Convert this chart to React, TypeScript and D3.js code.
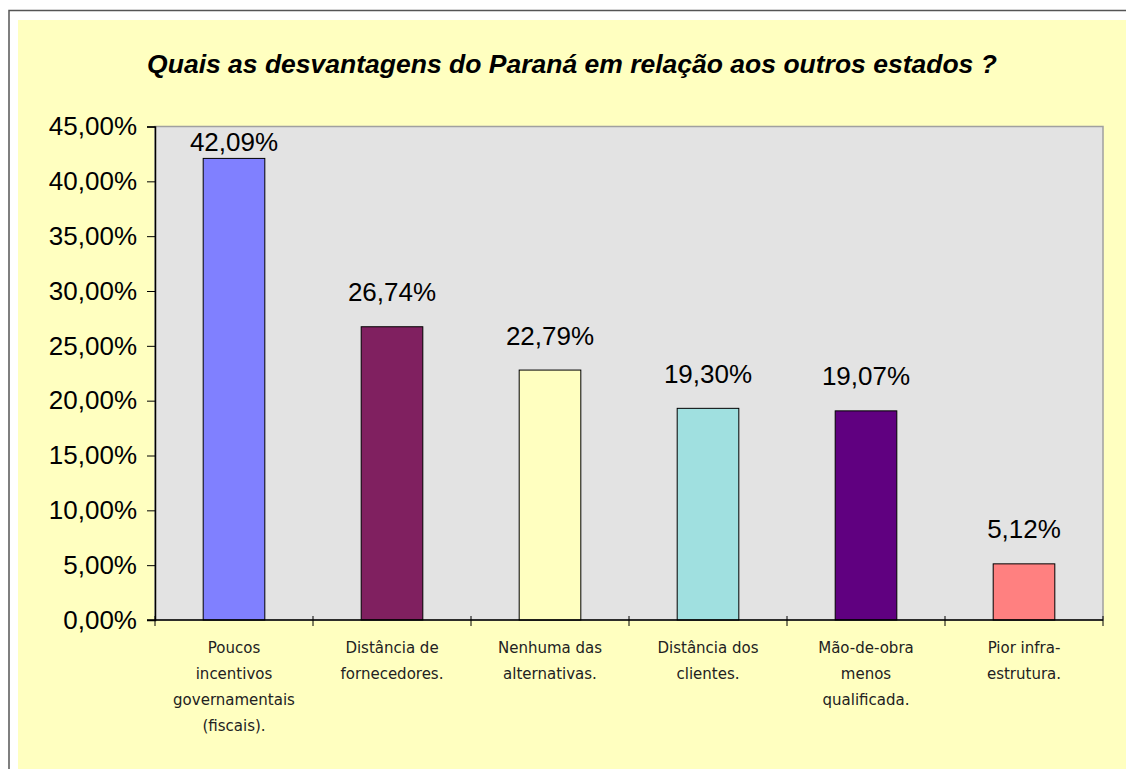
import { useEffect, useRef } from "react";
import * as d3 from "d3";

const categories = [
  ["Poucos", "incentivos", "governamentais", "(fiscais)."],
  ["Distância de", "fornecedores."],
  ["Nenhuma das", "alternativas."],
  ["Distância dos", "clientes."],
  ["Mão-de-obra", "menos", "qualificada."],
  ["Pior infra-", "estrutura."],
];
const values = [42.09, 26.74, 22.79, 19.3, 19.07, 5.12];
const barColors = ["#8080ff", "#802060", "#ffffc0", "#a0e0e0", "#600080", "#ff8080"];
const yTicks = [0, 5, 10, 15, 20, 25, 30, 35, 40, 45];

const fmt = (v: number) => v.toFixed(2).replace(".", ",") + "%";

export default function App() {
  const ref = useRef<SVGSVGElement>(null);

  useEffect(() => {
    const svg = d3.select(ref.current);
    svg.selectAll("*").remove();

    // page frame
    svg.append("rect").attr("width", 1126).attr("height", 769).attr("fill", "#fff");
    svg
      .append("path")
      .attr("d", "M9,769 V10.5 H1126")
      .attr("fill", "none")
      .attr("stroke", "#555")
      .attr("stroke-width", 1.5);
    svg
      .append("rect")
      .attr("x", 18)
      .attr("y", 20)
      .attr("width", 1108)
      .attr("height", 749)
      .attr("fill", "#ffffc0");

    svg
      .append("text")
      .attr("x", 572)
      .attr("y", 73)
      .attr("text-anchor", "middle")
      .style("font-family", "Liberation Sans, Arial, sans-serif")
      .style("font-size", "26.5px")
      .style("font-weight", "bold")
      .style("font-style", "italic")
      .text("Quais as desvantagens do Paraná em relação aos outros estados ?");

    const left = 155, right = 1103, top = 126.5, bottom = 620;

    const x = d3
      .scaleBand<number>()
      .domain(d3.range(values.length))
      .range([left, right])
      .paddingInner(0.61)
      .paddingOuter(0.305);
    const y = d3.scaleLinear().domain([0, 45]).range([bottom, top]);

    // plot area
    svg
      .append("rect")
      .attr("x", left)
      .attr("y", top)
      .attr("width", right - left)
      .attr("height", bottom - top)
      .attr("fill", "#e3e3e3")
      .attr("stroke", "#a0a0a0")
      .attr("stroke-width", 1.5);

    // bars
    svg
      .selectAll("rect.bar")
      .data(values)
      .join("rect")
      .attr("class", "bar")
      .attr("x", (_, i) => x(i)!)
      .attr("y", (d) => y(d))
      .attr("width", x.bandwidth())
      .attr("height", (d) => bottom - y(d))
      .attr("fill", (_, i) => barColors[i])
      .attr("stroke", "#000")
      .attr("stroke-width", 1);

    // value labels (clamped inside plot area like the original)
    svg
      .selectAll("text.val")
      .data(values)
      .join("text")
      .attr("class", "val")
      .attr("x", (_, i) => x(i)! + x.bandwidth() / 2)
      .attr("y", (d) => Math.max(y(d) - 25.5, top + 24.5))
      .attr("text-anchor", "middle")
      .style("font-family", "Liberation Sans, Arial, sans-serif")
      .style("font-size", "26px")
      .attr("fill", "#000")
      .text((d) => fmt(d));

    // y axis
    const yAxis = svg
      .append("g")
      .attr("transform", `translate(${left},0)`)
      .call(
        d3
          .axisLeft(y)
          .tickValues(yTicks)
          .tickSize(8)
          .tickPadding(10)
          .tickFormat((d) => fmt(+d))
      );
    yAxis.select(".domain").attr("stroke", "#000").attr("stroke-width", 1.5);
    yAxis.selectAll(".tick line").attr("stroke", "#000");
    yAxis
      .selectAll(".tick text")
      .attr("fill", "#000")
      .style("font-family", "Liberation Sans, Arial, sans-serif")
      .style("font-size", "26px");

    // x axis line & ticks
    const edges = d3.range(values.length + 1).map((i) => left + i * x.step());
    svg
      .append("line")
      .attr("x1", left - 8)
      .attr("x2", right)
      .attr("y1", bottom)
      .attr("y2", bottom)
      .attr("stroke", "#000")
      .attr("stroke-width", 1.5);
    svg
      .selectAll("line.xt")
      .data(edges)
      .join("line")
      .attr("class", "xt")
      .attr("x1", (d) => d)
      .attr("x2", (d) => d)
      .attr("y1", bottom - 4)
      .attr("y2", bottom + 6)
      .attr("stroke", "#000");

    // category labels
    const cl = svg
      .selectAll("text.cat")
      .data(categories)
      .join("text")
      .attr("class", "cat")
      .attr("text-anchor", "middle")
      .style("font-family", "DejaVu Sans, sans-serif")
      .style("font-size", "15px")
      .attr("fill", "#222");
    cl.selectAll("tspan")
      .data((d, i) => d.map((s) => ({ s, i })))
      .join("tspan")
      .attr("x", (d) => x(d.i)! + x.bandwidth() / 2)
      .attr("y", (_, j) => 653 + j * 26)
      .text((d) => d.s);
  }, []);

  return (
    <svg
      ref={ref}
      width={1126}
      height={769}
      style={{ position: "absolute", left: 0, top: 0 }}
    />
  );
}
